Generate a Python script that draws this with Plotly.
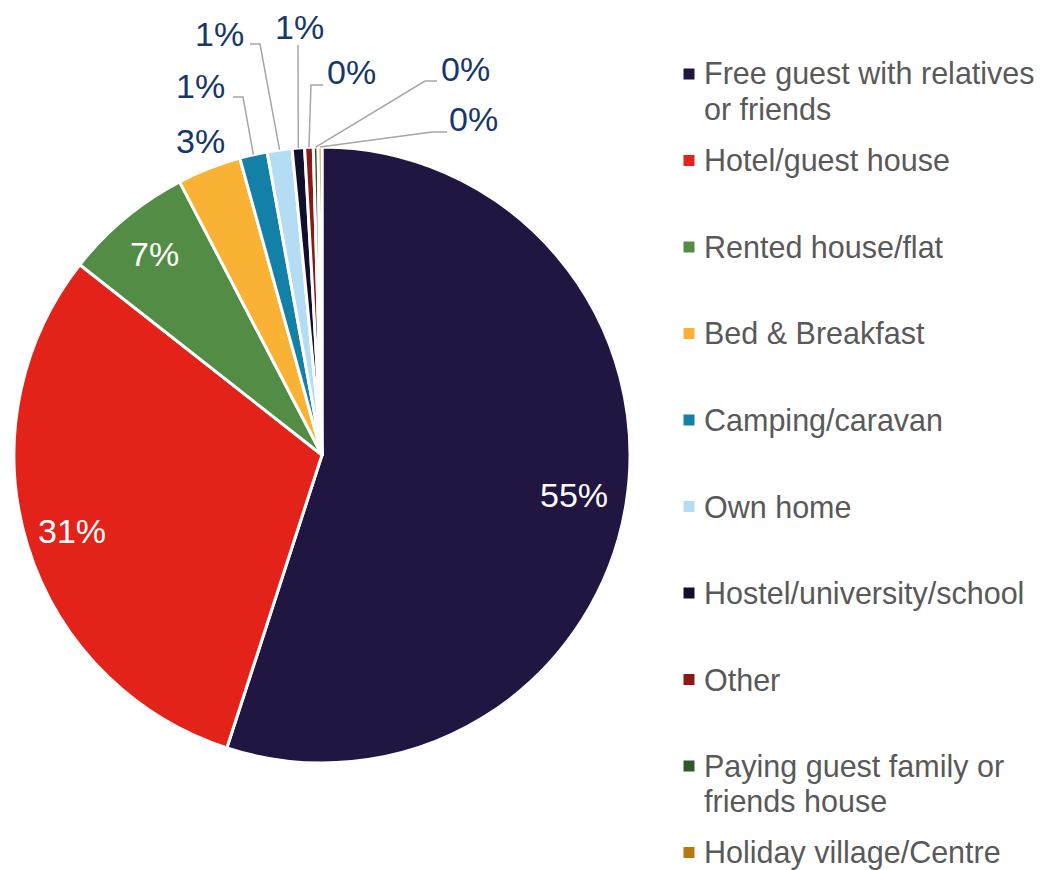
import math
import plotly.graph_objects as go

# Accommodation type shares (%)
labels = [
    "Free guest with relatives<br>or friends",
    "Hotel/guest house",
    "Rented house/flat",
    "Bed & Breakfast",
    "Camping/caravan",
    "Own home",
    "Hostel/university/school",
    "Other",
    "Paying guest family or<br>friends house",
    "Holiday village/Centre",
]
values = [55.0, 30.6, 6.75, 3.35, 1.45, 1.3, 0.65, 0.45, 0.25, 0.2]
colors = ["#201641", "#E32219", "#538C45", "#F9B234", "#1380A8",
          "#B4DDF5", "#120F2B", "#8B1A14", "#2E5A27", "#B57A0B"]

# page has an 8px body margin, so the figure sits at (8, 8)
OFF = 8
W, H = 1049 - OFF, 870 - OFF
# pie geometry in page pixels
cx, cy, R = 322, 455, 308


def paper(x, y):
    return (x - OFF) / W, 1 - (y - OFF) / H


fig = go.Figure()
dx0, dy0 = paper(cx - R, cy + R)
dx1, dy1 = paper(cx + R, cy - R)
fig.add_trace(go.Pie(
    labels=[l.replace("<br>", " ") for l in labels],
    values=values,
    sort=False,
    direction="clockwise",
    rotation=0,
    textinfo="none",
    showlegend=False,
    marker=dict(colors=colors, line=dict(color="white", width=3)),
    domain=dict(x=[dx0, dx1], y=[dy0, dy1]),
    hoverinfo="label+percent",
))

total = sum(values)
cum = 0
mids = []
for v in values:
    mids.append((cum + v / 2) / total * 2 * math.pi)
    cum += v

pct = [f"{round(v / total * 100)}%" for v in values]

annotations = []
shapes = []

# inside labels for the three big slices
inside_r = [0.83, 0.85, 0.85]
for i, fr in enumerate(inside_r):
    x = cx + fr * R * math.sin(mids[i])
    y = cy - fr * R * math.cos(mids[i])
    px, py = paper(x, y)
    annotations.append(dict(x=px, y=py, xref="paper", yref="paper", text=pct[i],
                            xanchor="center", yanchor="middle", showarrow=False,
                            font=dict(size=34, color="white")))

# outside labels: text centre, then leader points (start, elbow) toward the slice edge
outside = {
    3: ((200, 141), []),
    4: ((200, 86), [(233, 97), (243, 97)]),
    5: ((219, 34), [(250, 44), (260, 44)]),
    6: ((299, 27), [(298, 45)]),
    7: ((351, 72), [(323, 85), (311, 85)]),
    8: ((465, 69), [(437, 81), (425, 81)]),
    9: ((473, 119), [(447, 132), (432, 132)]),
}
for i, (pos, pts) in outside.items():
    px, py = paper(*pos)
    annotations.append(dict(x=px, y=py, xref="paper", yref="paper", text=pct[i],
                            xanchor="center", yanchor="middle", showarrow=False,
                            font=dict(size=34, color="#17376B")))
    if pts:
        ex = cx + R * math.sin(mids[i])
        ey = cy - R * math.cos(mids[i])
        allp = [paper(*p) for p in pts] + [paper(ex, ey)]
        path = "M " + " L ".join(f"{a:.5f},{b:.5f}" for a, b in allp)
        shapes.append(dict(type="path", path=path, xref="paper", yref="paper",
                           line=dict(color="#A6A6A6", width=1.5)))

# legend drawn by hand so rows keep an even spacing
row0, step, line_h = 74, 86.5, 35
for i, lab in enumerate(labels):
    ry = row0 + i * step
    x0, y0 = paper(683.5, ry - 5.5)
    x1, y1 = paper(694.5, ry + 5.5)
    shapes.append(dict(type="rect", xref="paper", yref="paper", x0=x0, x1=x1, y0=y0, y1=y1,
                       fillcolor=colors[i], line=dict(width=0)))
    for j, part in enumerate(lab.split("<br>")):
        tx, ty = paper(702, ry + j * line_h)
        annotations.append(dict(x=tx, y=ty, xref="paper", yref="paper", text=part,
                                xanchor="left", yanchor="middle", showarrow=False,
                                font=dict(size=30.5, color="#595959")))

fig.update_layout(
    width=W, height=H,
    margin=dict(l=0, r=0, t=0, b=0),
    paper_bgcolor="white",
    plot_bgcolor="white",
    font=dict(family="Liberation Sans, Arial, sans-serif"),
    annotations=annotations,
    shapes=shapes,
)

fig.write_html("out.html")
